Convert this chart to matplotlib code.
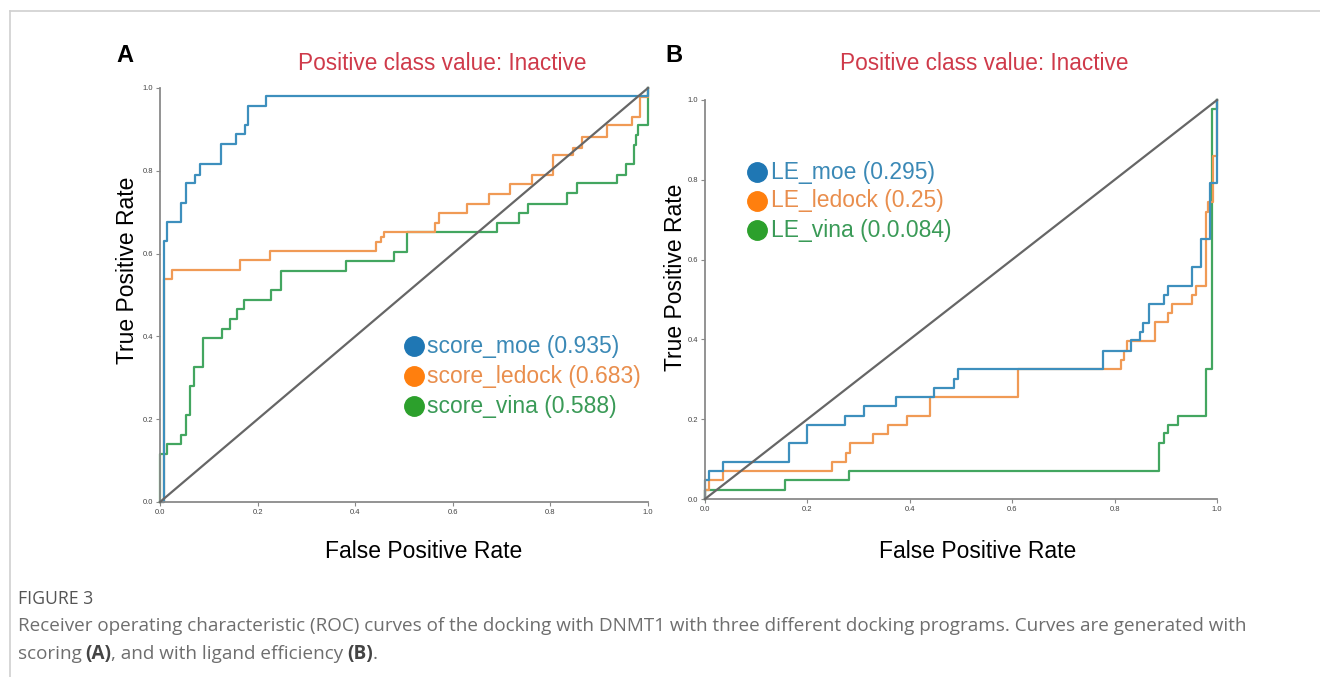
import numpy as np
import matplotlib.pyplot as plt

# panel A - scoring
moe_a_fpr = [0, 0.008, 0.015, 0.044, 0.053, 0.072, 0.081, 0.126, 0.156, 0.174, 0.18, 0.217, 1.0]
moe_a_tpr = [0, 0.63, 0.677, 0.723, 0.77, 0.791, 0.816, 0.864, 0.888, 0.911, 0.957, 0.98, 1.0]
ledock_a_fpr = [0, 0.008, 0.024, 0.164, 0.225, 0.443, 0.452, 0.46, 0.564, 0.571, 0.63, 0.674, 0.718,
                0.762, 0.806, 0.847, 0.864, 0.915, 0.967, 0.984, 1.0]
ledock_a_tpr = [0, 0.539, 0.56, 0.585, 0.607, 0.628, 0.64, 0.651, 0.674, 0.698, 0.721, 0.744, 0.767,
                0.791, 0.837, 0.854, 0.882, 0.911, 0.931, 0.979, 1.0]
vina_a_fpr = [0, 0, 0.015, 0.044, 0.053, 0.062, 0.07, 0.088, 0.128, 0.143, 0.157, 0.172, 0.227, 0.248,
              0.381, 0.48, 0.507, 0.69, 0.736, 0.755, 0.833, 0.854, 0.936, 0.954, 0.971, 0.976, 0.98, 1.0]
vina_a_tpr = [0, 0.116, 0.14, 0.163, 0.209, 0.279, 0.326, 0.395, 0.419, 0.442, 0.465, 0.488, 0.512, 0.558,
              0.581, 0.605, 0.651, 0.674, 0.698, 0.721, 0.746, 0.77, 0.791, 0.816, 0.862, 0.886, 0.91, 1.0]

# panel B - ligand efficiency
moe_b_fpr = [0, 0, 0.007, 0.035, 0.164, 0.199, 0.273, 0.311, 0.374, 0.448, 0.486, 0.494, 0.778, 0.833,
             0.85, 0.855, 0.868, 0.896, 0.905, 0.951, 0.969, 0.987, 1.0, 1.0]
moe_b_tpr = [0, 0.047, 0.07, 0.093, 0.14, 0.186, 0.209, 0.233, 0.256, 0.279, 0.302, 0.326, 0.372, 0.398,
             0.419, 0.442, 0.489, 0.511, 0.535, 0.582, 0.651, 0.791, 0.977, 1.0]
ledock_b_fpr = [0, 0, 0.007, 0.035, 0.248, 0.275, 0.283, 0.329, 0.357, 0.395, 0.439, 0.612, 0.813, 0.819,
                0.825, 0.879, 0.905, 0.913, 0.952, 0.959, 0.978, 0.983, 0.992, 1.0]
ledock_b_tpr = [0, 0.023, 0.047, 0.07, 0.093, 0.116, 0.14, 0.163, 0.186, 0.209, 0.256, 0.326, 0.349, 0.372,
                0.397, 0.444, 0.466, 0.489, 0.511, 0.535, 0.72, 0.745, 0.86, 1.0]
vina_b_fpr = [0, 0, 0.156, 0.282, 0.887, 0.896, 0.905, 0.924, 0.978, 0.99, 1.0]
vina_b_tpr = [0, 0.023, 0.047, 0.071, 0.14, 0.165, 0.186, 0.209, 0.327, 0.977, 1.0]

legend_a = ["score_moe (0.935)", "score_ledock (0.683)", "score_vina (0.588)"]
legend_b = ["LE_moe (0.295)", "LE_ledock (0.25)", "LE_vina (0.0.084)"]
ticks = [0.0, 0.2, 0.4, 0.6, 0.8, 1.0]

line_cols = ['#3d8fbd', '#f09a55', '#43a660']
dot_cols = ['#1f77b4', '#ff7f0e', '#2ca02c']
txt_cols = ['#3b89b6', '#e98e4d', '#3a9a57']
title_col = '#cf3a4a'

plt.rcParams['font.family'] = ['Liberation Sans', 'DejaVu Sans']

W, H = 1320, 677
fig = plt.figure(figsize=(W / 100, H / 100), dpi=100)

def px(x, y):
    return x / W, 1 - y / H

def make_ax(x0, x1, y1, y0):
    ax = fig.add_axes([x0 / W, 1 - y0 / H, (x1 - x0) / W, (y0 - y1) / H])
    ax.set_xlim(0, 1)
    ax.set_ylim(0, 1)
    for s in ['top', 'right']:
        ax.spines[s].set_visible(False)
    for s in ['left', 'bottom']:
        ax.spines[s].set_color('#8a8a8a')
        ax.spines[s].set_linewidth(1.3)
    ax.set_xticks(ticks)
    ax.set_yticks(ticks)
    ax.set_xticklabels(['%.1f' % t for t in ticks])
    ax.set_yticklabels(['%.1f' % t for t in ticks])
    ax.tick_params(labelsize=5.5, length=3, width=0.8, color='#888888', labelcolor='#444444', pad=2)
    ax.plot([0, 1], [0, 1], color='#666666', lw=1.6, clip_on=False, zorder=3)
    return ax

axA = make_ax(160, 648, 88, 502)
axB = make_ax(705, 1217, 100, 499)

for fpr, tpr, c in zip([vina_a_fpr, ledock_a_fpr, moe_a_fpr], [vina_a_tpr, ledock_a_tpr, moe_a_tpr],
                       [line_cols[2], line_cols[1], line_cols[0]]):
    axA.plot(fpr, tpr, drawstyle='steps-post', color=c, lw=1.6, clip_on=False, zorder=2)
for fpr, tpr, c in zip([vina_b_fpr, ledock_b_fpr, moe_b_fpr], [vina_b_tpr, ledock_b_tpr, moe_b_tpr],
                       [line_cols[2], line_cols[1], line_cols[0]]):
    axB.plot(fpr, tpr, drawstyle='steps-post', color=c, lw=1.6, clip_on=False, zorder=2)

# legends
def legend(labels, xc, xt, ys):
    for lab, y, dc, tc in zip(labels, ys, dot_cols, txt_cols):
        fig.lines.append(plt.Line2D([xc / W], [1 - y / H], marker='o', markersize=14,
                                    color=dc, transform=fig.transFigure))
        fig.text(*px(xt, y), lab, color=tc, fontsize=16.5, va='center', ha='left')

legend(legend_a, 414, 427, [346, 376, 406])
legend(legend_b, 757, 771, [172, 201, 230])

# titles and labels
fig.text(*px(442, 64), "Positive class value: Inactive", color=title_col, fontsize=16.3, ha='center', va='center')
fig.text(*px(984, 64), "Positive class value: Inactive", color=title_col, fontsize=16.3, ha='center', va='center')
fig.text(*px(125, 55), "A", fontsize=17, fontweight='bold', ha='center', va='center')
fig.text(*px(674, 55), "B", fontsize=17, fontweight='bold', ha='center', va='center')
fig.text(*px(127, 270), "True Positive Rate", fontsize=16.5, rotation=90, ha='center', va='center')
fig.text(*px(676, 277), "True Positive Rate", fontsize=16.5, rotation=90, ha='center', va='center')
fig.text(*px(424, 552), "False Positive Rate", fontsize=16.5, ha='center', va='center')
fig.text(*px(978, 552), "False Positive Rate", fontsize=16.5, ha='center', va='center')

# frame lines of the figure box
fig.lines.append(plt.Line2D([10 / W, 1], [1 - 11 / H, 1 - 11 / H], color='#d0d0d0', lw=1.2, transform=fig.transFigure))
fig.lines.append(plt.Line2D([10 / W, 10 / W], [0, 1 - 11 / H], color='#d0d0d0', lw=1.2, transform=fig.transFigure))

# caption
cap_font = ['Open Sans', 'DejaVu Sans']
cap_col = '#6e6e6e'
cap_size = 13.6
fig.text(*px(18, 599), "FIGURE 3", fontsize=12.7, color='#555555', family=cap_font, va='center', ha='left')
fig.text(*px(18, 626), "Receiver operating characteristic (ROC) curves of the docking with DNMT1 with three "
         "different docking programs. Curves are generated with", fontsize=cap_size, color=cap_col,
         family=cap_font, va='center', ha='left')

renderer = fig.canvas.get_renderer()
x = 18
for piece, bold in [("scoring ", False), ("(A)", True), (", and with ligand efficiency ", False),
                    ("(B)", True), (".", False)]:
    t = fig.text(*px(x, 654), piece, fontsize=cap_size, color='#444444' if bold else cap_col, family=cap_font,
                 fontweight='bold' if bold else 'normal', va='center', ha='left')
    bb = t.get_window_extent(renderer)
    x += bb.width - (1.5 if piece.endswith(' ') else 0)

fig.savefig('out.png', dpi=100)
